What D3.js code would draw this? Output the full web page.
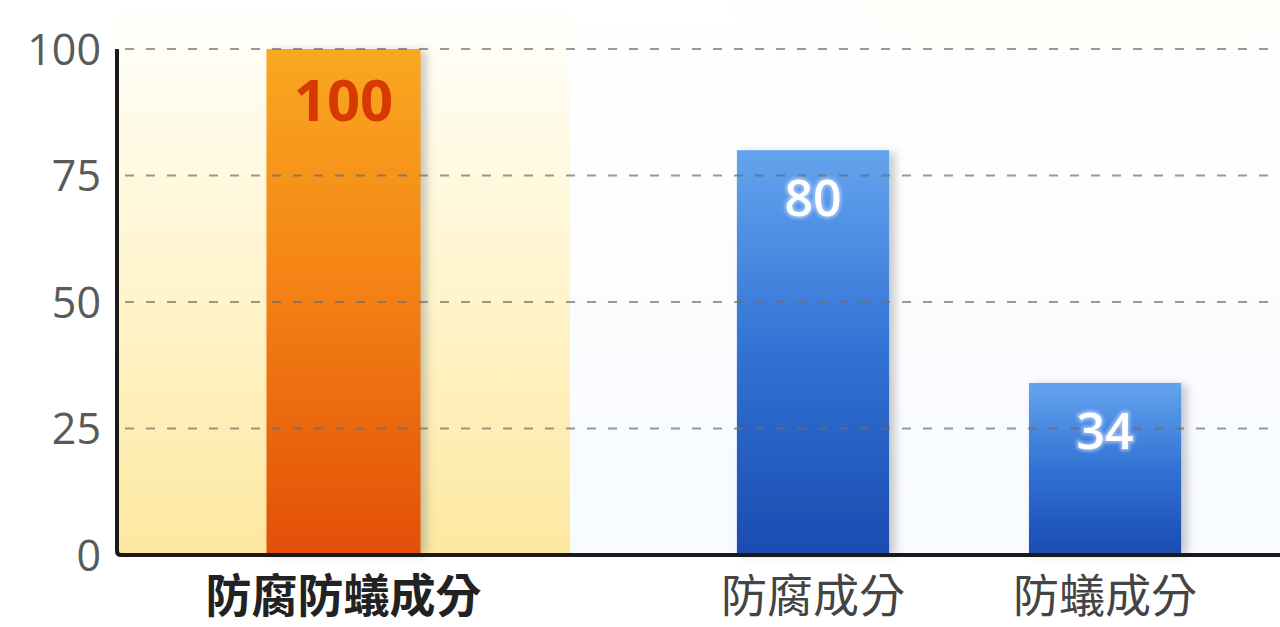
<!DOCTYPE html>
<html>
<head>
<meta charset="utf-8">
<script src="https://cdn.jsdelivr.net/npm/d3@7"></script>
<style>
  html, body { margin: 0; padding: 0; background: #fff; }
  svg { display: block; }
</style>
</head>
<body>
<svg id="chart"></svg>
<script>
const categories = ["防腐防蟻成分", "防腐成分", "防蟻成分"];
const values = [100, 80, 34];
const yTicks = [0, 25, 50, 75, 100];

const width = 1280;
const height = 627;
const axisX = 117;
const baseY = 555;
const panelRight = 570;

const svg = d3.select('#chart')
    .attr('width', width)
    .attr('height', height);

const defs = svg.append('defs');

function vGrad(id, stops) {
    const g = defs.append('linearGradient')
        .attr('id', id)
        .attr('x1', 0).attr('y1', 0).attr('x2', 0).attr('y2', 1);
    stops.forEach(([o, c]) => g.append('stop').attr('offset', o).attr('stop-color', c));
}

vGrad('panelYellow', [[0, '#ffffff'], [0.3, '#fff9e0'], [0.7, '#fff0bc'], [1, '#fde8a0']]);
vGrad('panelBlue', [[0, '#ffffff'], [1, '#f5f9fe']]);
vGrad('barOrange', [[0, '#f9a820'], [0.45, '#f48415'], [1, '#e24f08']]);
vGrad('barBlue', [[0, '#64a4ee'], [0.5, '#3272d4'], [1, '#1a4bb1']]);

const glow = defs.append('radialGradient').attr('id', 'cornerGlow')
    .attr('cx', 0.5).attr('cy', 0.5).attr('r', 0.5);
glow.append('stop').attr('offset', 0).attr('stop-color', '#fff6d6').attr('stop-opacity', 0.9);
glow.append('stop').attr('offset', 1).attr('stop-color', '#fff6d6').attr('stop-opacity', 0);

defs.append('filter').attr('id', 'shadow')
    .attr('x', '-20%').attr('y', '-5%').attr('width', '140%').attr('height', '110%')
    .append('feGaussianBlur').attr('stdDeviation', 4);

defs.append('filter').attr('id', 'txtGlow')
    .append('feGaussianBlur').attr('stdDeviation', 1.5);

const y = d3.scaleLinear()
    .domain([0, 100])
    .range([baseY, 49]);

// featured product sits in its own highlighted panel
const xFeat = d3.scaleBand()
    .domain(categories.slice(0, 1))
    .range([axisX, panelRight])
    .padding(0.4925);

const xOther = d3.scaleBand()
    .domain(categories.slice(1))
    .range([panelRight, width])
    .paddingInner(0.479)
    .paddingOuter(0.455)
    .align(0.628);

const xPos = c => categories.indexOf(c) === 0 ? xFeat(c) : xOther(c);
const bw = c => categories.indexOf(c) === 0 ? xFeat.bandwidth() : xOther.bandwidth();

const rows = categories.map((c, i) => ({ cat: c, value: values[i], featured: i === 0 }));

// backgrounds
svg.append('ellipse')
    .attr('cx', 1080).attr('cy', 0).attr('rx', 360).attr('ry', 110)
    .attr('fill', 'url(#cornerGlow)');

svg.append('rect')
    .attr('x', panelRight).attr('y', 0)
    .attr('width', width - panelRight).attr('height', baseY)
    .attr('fill', 'url(#panelBlue)')
    .attr('opacity', 0.8);

svg.append('rect')
    .attr('x', axisX).attr('y', 0)
    .attr('width', panelRight - axisX).attr('height', baseY)
    .attr('fill', 'url(#panelYellow)');

// bar shadows
svg.append('g').selectAll('rect')
    .data(rows)
    .enter()
    .append('rect')
    .attr('x', d => xPos(d.cat) + 6)
    .attr('y', d => y(d.value) + 2)
    .attr('width', d => bw(d.cat))
    .attr('height', d => baseY - y(d.value) - 2)
    .attr('fill', '#8a8a8a')
    .attr('opacity', 0.45)
    .attr('filter', 'url(#shadow)');

// bars
svg.append('g').selectAll('rect')
    .data(rows)
    .enter()
    .append('rect')
    .attr('x', d => xPos(d.cat))
    .attr('y', d => y(d.value))
    .attr('width', d => bw(d.cat))
    .attr('height', d => baseY - y(d.value))
    .attr('fill', d => d.featured ? 'url(#barOrange)' : 'url(#barBlue)');

// dashed grid drawn over the bars
svg.append('g').selectAll('line')
    .data(yTicks.filter(t => t > 0))
    .enter()
    .append('line')
    .attr('x1', axisX + 8)
    .attr('x2', width)
    .attr('y1', d => y(d))
    .attr('y2', d => y(d))
    .attr('stroke', '#6e6e6e')
    .attr('stroke-opacity', 0.7)
    .attr('stroke-width', 2)
    .attr('stroke-dasharray', '9 12');

// axes
svg.append('path')
    .attr('d', `M${axisX},${y(100)} L${axisX},${baseY - 4} Q${axisX},${baseY} ${axisX + 4},${baseY} L${width},${baseY}`)
    .attr('fill', 'none')
    .attr('stroke', '#1a1a1a')
    .attr('stroke-width', 4);

const yAxis = svg.append('g')
    .attr('transform', `translate(${axisX}, 0)`)
    .call(d3.axisLeft(y).tickValues(yTicks).tickSize(0).tickPadding(16));
yAxis.select('.domain').remove();
yAxis.selectAll('text')
    .attr('font-family', "'Open Sans', 'Noto Sans', sans-serif")
    .attr('font-size', 43)
    .attr('fill', '#5a5a5a')
    .attr('dy', '0.36em');

// value labels
const labelY = d => y(d.value) + (d.featured ? 72 : 66);
const labels = svg.append('g');
labels.selectAll('text.glow')
    .data(rows.filter(d => !d.featured))
    .enter()
    .append('text')
    .attr('x', d => xPos(d.cat) + bw(d.cat) / 2)
    .attr('y', labelY)
    .attr('text-anchor', 'middle')
    .attr('font-family', "'Open Sans', sans-serif")
    .attr('font-weight', 600)
    .attr('font-size', 50)
    .attr('fill', 'none')
    .attr('stroke', '#cfe0ff')
    .attr('stroke-width', 4)
    .attr('opacity', 0.6)
    .attr('filter', 'url(#txtGlow)')
    .text(d => d.value);

labels.selectAll('text.val')
    .data(rows)
    .enter()
    .append('text')
    .attr('x', d => xPos(d.cat) + bw(d.cat) / 2)
    .attr('y', labelY)
    .attr('text-anchor', 'middle')
    .attr('font-family', "'Open Sans', sans-serif")
    .attr('font-weight', d => d.featured ? 700 : 600)
    .attr('font-size', d => d.featured ? 58 : 50)
    .attr('fill', d => d.featured ? '#d63a02' : '#ffffff')
    .text(d => d.value);

// category labels
svg.append('g').selectAll('text')
    .data(rows)
    .enter()
    .append('text')
    .attr('x', d => xPos(d.cat) + bw(d.cat) / 2)
    .attr('y', 612)
    .attr('text-anchor', 'middle')
    .attr('font-family', "'Noto Sans CJK TC', 'Noto Sans CJK JP', sans-serif")
    .attr('font-weight', d => d.featured ? 700 : 400)
    .attr('font-size', 46)
    .attr('fill', d => d.featured ? '#222' : '#444')
    .text(d => d.cat);
</script>
</body>
</html>
